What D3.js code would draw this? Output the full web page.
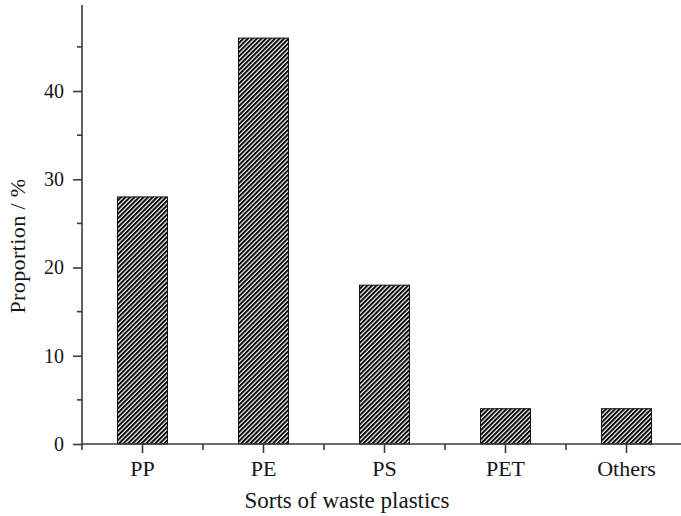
<!DOCTYPE html>
<html>
<head>
<meta charset="utf-8">
<script src="https://cdn.jsdelivr.net/npm/d3@7/dist/d3.min.js"></script>
<style>
  html, body { margin: 0; padding: 0; background: #fff; }
  svg { display: block; }
  text { font-family: "Liberation Serif", "Times New Roman", serif; fill: #151515; }
</style>
</head>
<body>
<svg id="chart" width="681" height="516"></svg>
<script>
// Composition of collected waste plastics, by resin type
const categories = ["PP", "PE", "PS", "PET", "Others"];
const proportions = [28, 46, 18, 4, 4];
const yTickValues = [0, 10, 20, 30, 40];
const yMinorTickValues = [5, 15, 25, 35, 45];
const xTitle = "Sorts of waste plastics";
const yTitle = "Proportion / %";

const svg = d3.select("#chart");
const axisColor = "#3a3a3a";
const textColor = "#151515";

const plotLeft = 82, plotBottom = 444, plotTop = 5;

const x = d3.scaleBand()
  .domain(categories)
  .range([plotLeft, plotLeft + 605])
  .paddingInner(0.587)
  .paddingOuter(0.2935);

const y = d3.scaleLinear()
  .domain([0, 49.75])
  .range([plotBottom, plotTop]);

// diagonal hatch fill for the bars
const defs = svg.append("defs");
const pat = defs.append("pattern")
  .attr("id", "hatch")
  .attr("patternUnits", "userSpaceOnUse")
  .attr("width", 3.2)
  .attr("height", 10)
  .attr("patternTransform", "rotate(45)");
pat.append("rect").attr("width", 3.2).attr("height", 10).attr("fill", "#ffffff");
pat.append("rect").attr("width", 1.95).attr("height", 10).attr("fill", "#000");

// bars
svg.append("g")
  .selectAll("rect")
  .data(categories)
  .join("rect")
  .attr("x", (d) => x(d))
  .attr("y", (d, i) => y(proportions[i]))
  .attr("width", x.bandwidth())
  .attr("height", (d, i) => y(0) - y(proportions[i]))
  .attr("fill", "url(#hatch)")
  .attr("stroke", "#111")
  .attr("stroke-width", 1);

// y axis: major ticks with labels, minor ticks between
const yAxis = svg.append("g")
  .attr("transform", `translate(${plotLeft},0)`)
  .call(d3.axisLeft(y).tickValues(yTickValues).tickSize(9).tickPadding(9).tickFormat(d3.format("d")));
yAxis.select(".domain").remove();
yAxis.append("line")
  .attr("x1", 0).attr("x2", 0).attr("y1", y.range()[1]).attr("y2", plotBottom)
  .attr("stroke", axisColor).attr("stroke-width", 1.6);
yAxis.selectAll(".tick line").attr("stroke", axisColor).attr("stroke-width", 1.6);
yAxis.selectAll(".tick text")
  .attr("font-size", 20)
  .attr("font-family", "Liberation Serif, serif")
  .attr("fill", textColor);
yAxis.append("g")
  .selectAll("line")
  .data(yMinorTickValues)
  .join("line")
  .attr("x1", -5).attr("x2", 0)
  .attr("y1", (d) => y(d)).attr("y2", (d) => y(d))
  .attr("stroke", axisColor).attr("stroke-width", 1.6);

// x axis: ticks at category centres, minor ticks at band edges
const xAxis = svg.append("g")
  .attr("transform", `translate(0,${plotBottom})`)
  .call(d3.axisBottom(x).tickSize(9).tickPadding(7));
xAxis.select(".domain").remove();
xAxis.append("line")
  .attr("x1", plotLeft).attr("x2", 681).attr("y1", 0).attr("y2", 0)
  .attr("stroke", axisColor).attr("stroke-width", 1.6);
xAxis.selectAll(".tick line").attr("stroke", axisColor).attr("stroke-width", 1.6);
xAxis.selectAll(".tick text")
  .attr("font-size", 22)
  .attr("font-family", "Liberation Serif, serif")
  .attr("fill", textColor);
const edges = categories.map((d) => x(d) - x.step() * x.paddingInner() / 2)
  .concat([x.range()[1]]);
xAxis.append("g")
  .selectAll("line")
  .data(edges)
  .join("line")
  .attr("x1", (d) => d).attr("x2", (d) => d)
  .attr("y1", 0).attr("y2", 6)
  .attr("stroke", axisColor).attr("stroke-width", 1.6);

// axis titles
svg.append("text")
  .attr("x", 347)
  .attr("y", 508)
  .attr("text-anchor", "middle")
  .attr("font-size", 23)
  .text(xTitle);

svg.append("text")
  .attr("transform", "translate(25,246) rotate(-90)")
  .attr("text-anchor", "middle")
  .attr("font-size", 22)
  .attr("letter-spacing", 0.4)
  .text(yTitle);
</script>
</body>
</html>
